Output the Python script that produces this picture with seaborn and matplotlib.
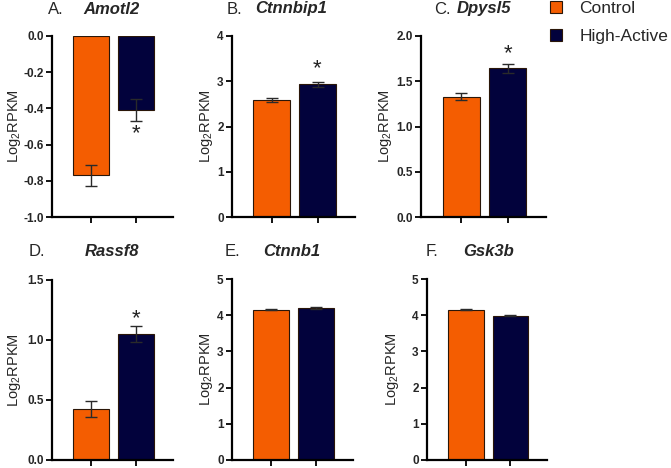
import pandas as pd
import matplotlib
matplotlib.use("Agg")
import matplotlib.pyplot as plt
from matplotlib.patches import Patch
import seaborn as sns

# ── data (mean log2 RPKM ± SEM) ─────────────────────────────────────────────
genes = ["Amotl2", "Ctnnbip1", "Dpysl5", "Rassf8", "Ctnnb1", "Gsk3b"]
panel_letters = ["A.", "B.", "C.", "D.", "E.", "F."]
groups = ["Control", "High-Active"]
control_mean = [-0.77, 2.59, 1.33, 0.425, 4.15, 4.15]
control_sem = [0.06, 0.05, 0.035, 0.07, 0.02, 0.02]
active_mean = [-0.41, 2.93, 1.645, 1.05, 4.20, 3.99]
active_sem = [0.06, 0.05, 0.05, 0.07, 0.02, 0.02]
significant = [True, True, True, True, False, False]
star_y = [-0.54, 3.27, 1.80, 1.18, None, None]

y_limits = [(-1.0, 0.0), (0, 4), (0, 2.0), (0, 1.5), (0, 5), (0, 5)]
y_ticks = [[-1.0, -0.8, -0.6, -0.4, -0.2, 0.0], [0, 1, 2, 3, 4],
           [0.0, 0.5, 1.0, 1.5, 2.0], [0.0, 0.5, 1.0, 1.5],
           [0, 1, 2, 3, 4, 5], [0, 1, 2, 3, 4, 5]]
y_tick_fmt = ["{:.1f}", "{:.0f}", "{:.1f}", "{:.1f}", "{:.0f}", "{:.0f}"]

palette = {"Control": "#F45D01", "High-Active": "#02023C"}

sns.set_style("white")
plt.rcParams["font.family"] = ["Liberation Sans", "DejaVu Sans"]
plt.rcParams["mathtext.fontset"] = "custom"
plt.rcParams["mathtext.rm"] = "Liberation Sans"

W, H = 671, 468
fig = plt.figure(figsize=(W / 100, H / 100), dpi=100)

# axes boxes in pixels: left, top, right, bottom
boxes = [(52, 36, 173, 217), (232, 36, 355, 217), (421, 36, 546, 217),
         (52, 280, 173, 460), (232, 279, 353, 460), (427, 279, 547, 460)]
label_x = [-0.24, -0.14, -0.22, -0.24, -0.14, -0.22]
letter_pos = [(48, 9), (227, 9), (434, 9), (29, 252), (225, 252), (426, 252)]
gene_pos = [(83, 9), (255, 9), (457, 9), (85, 252), (263, 252), (463, 252)]

for i, gene in enumerate(genes):
    l, t, r, b = boxes[i]
    ax = fig.add_axes([l / W, 1 - b / H, (r - l) / W, (b - t) / H])
    df = pd.DataFrame({"group": groups,
                       "mean": [control_mean[i], active_mean[i]],
                       "sem": [control_sem[i], active_sem[i]]})
    sns.barplot(data=df, x="group", y="mean", hue="group", palette=palette,
                order=groups, hue_order=groups, errorbar=None, width=0.8,
                saturation=1, edgecolor="#2a1608", linewidth=0.8,
                legend=False, ax=ax)
    ax.errorbar(x=[0, 1], y=df["mean"], yerr=df["sem"], fmt="none",
                ecolor="#2a2a2a", elinewidth=1.0, capsize=4.5, capthick=1.0,
                zorder=5)
    if significant[i]:
        ax.text(1, star_y[i], "*", ha="center", va="center", fontsize=16,
                color="#222222")

    ax.set_xlim(-0.87, 1.82)
    ax.set_ylim(*y_limits[i])
    ax.set_yticks(y_ticks[i])
    ax.set_yticklabels([y_tick_fmt[i].format(v) for v in y_ticks[i]],
                       fontsize=8.5, fontweight="bold")
    ax.set_xticks([0, 1])
    ax.set_xticklabels([])
    ax.set_xlabel("")
    ax.set_ylabel("Log$_2$RPKM", fontsize=10.5)
    ax.yaxis.set_label_coords(label_x[i], 0.5)
    ax.tick_params(axis="both", direction="out", length=4, width=1.3,
                   color="black", pad=2, left=True, bottom=True)
    sns.despine(ax=ax)
    for side in ["left", "bottom"]:
        ax.spines[side].set_linewidth(1.6)
        ax.spines[side].set_color("black")

    lx, ly = letter_pos[i]
    fig.text(lx / W, 1 - ly / H, panel_letters[i], fontsize=12,
             ha="left", va="center")
    gx, gy = gene_pos[i]
    fig.text(gx / W, 1 - gy / H, gene, fontsize=12, fontweight="bold",
             fontstyle="italic", ha="left", va="center")

handles = [Patch(facecolor=palette[g], edgecolor="#2a1608", linewidth=0.8)
           for g in groups]
fig.legend(handles, groups, loc="upper left",
           bbox_to_anchor=(550 / W, 1 - 1 / H), frameon=False, fontsize=12.5,
           handlelength=0.69, handleheight=0.69, handletextpad=1.0,
           borderpad=0, borderaxespad=0, labelspacing=0.75)

fig.savefig("out.png", dpi=100)
